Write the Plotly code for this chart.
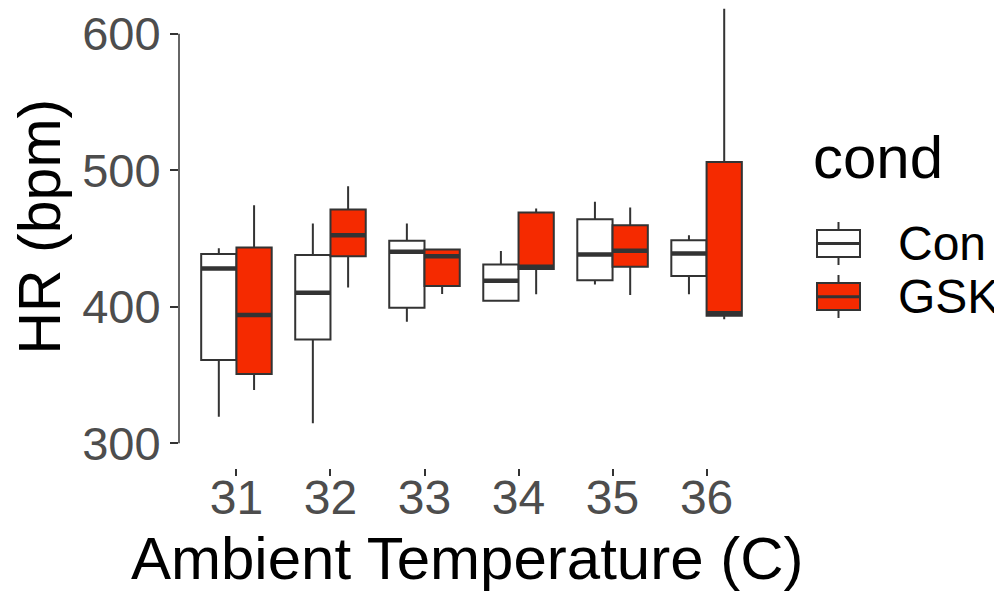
import plotly.graph_objects as go

# ---- data ----
temps = ["31", "32", "33", "34", "35", "36"]

con_lower  = [319.5, 314.6, 389.0, 404.4, 416.4, 409.1]
con_q1     = [361.0, 376.1, 399.3, 404.4, 419.5, 422.5]
con_median = [428.1, 410.2, 440.3, 419.0, 438.4, 439.1]
con_q3     = [438.6, 437.9, 448.3, 431.0, 464.2, 448.8]
con_upper  = [442.8, 461.0, 461.0, 440.8, 476.9, 452.5]

gsk_lower  = [339.0, 414.2, 409.3, 409.1, 408.6, 390.8]
gsk_q1     = [350.7, 437.1, 415.2, 427.6, 429.3, 393.4]
gsk_median = [393.9, 452.5, 437.1, 429.3, 441.0, 395.2]
gsk_q3     = [443.5, 471.3, 442.0, 469.1, 459.8, 506.1]
gsk_upper  = [474.4, 488.4, 442.0, 472.0, 472.8, 618.4]

y_ticks = [300, 400, 500, 600]
conds = ["Con", "GSK"]

# ---- style ----
RED = "#F52A00"
EDGE = "#333333"
FONT = "Liberation Sans, Arial, sans-serif"

OFF = 8  # page body margin
W, H = 1002 - OFF, 593 - OFF
L, R, T, B = 171, 239, 0, 125
PW, PH = W - L - R, H - T - B


def px_x(p):
    # page pixel -> paper x
    return (p - OFF - L) / PW


def px_y(p):
    # page pixel -> paper y
    return (H - B - (p - OFF)) / PH


fig = go.Figure()

series = [
    ("Con", "white", con_lower, con_q1, con_median, con_q3, con_upper),
    ("GSK", RED, gsk_lower, gsk_q1, gsk_median, gsk_q3, gsk_upper),
]

for name, fill, lo, q1, med, q3, up in series:
    fig.add_trace(go.Box(
        name=name, x=temps, q1=q1, median=med, q3=q3,
        lowerfence=lo, upperfence=up,
        fillcolor=fill, line=dict(color=EDGE, width=2),
        whiskerwidth=0, boxpoints=False,
        offsetgroup=name, alignmentgroup="a",
        showlegend=False, hoverinfo="skip",
    ))
    # thicker median line, like ggplot's fattened median
    fig.add_trace(go.Box(
        name=name + " median", x=temps, q1=med, median=med, q3=med,
        lowerfence=med, upperfence=med,
        fillcolor=fill, line=dict(color=EDGE, width=4.5),
        whiskerwidth=0, boxpoints=False,
        offsetgroup=name, alignmentgroup="a",
        showlegend=False, hoverinfo="skip",
    ))

fig.update_layout(
    width=W, height=H,
    margin=dict(l=L, r=R, t=T, b=B, pad=0),
    paper_bgcolor="white", plot_bgcolor="white",
    boxmode="group", boxgap=0.25, boxgroupgap=0,
    showlegend=False,
    font=dict(family=FONT),
)

fig.update_xaxes(
    type="category", range=[-0.611, 5.6],
    showline=False, showgrid=False, zeroline=False,
    ticks="outside", ticklen=7, tickwidth=1.5, tickcolor=EDGE,
    ticklabelstandoff=-20, ticklabeloverflow="allow",
    tickfont=dict(size=48, color="#4D4D4D", family=FONT),
)
fig.update_yaxes(
    range=[281.9, 618.9],
    tickvals=y_ticks, ticktext=[str(v) for v in y_ticks],
    showline=False, showgrid=False, zeroline=False,
    ticks="outside", ticklen=8, tickwidth=1.5, tickcolor=EDGE,
    ticklabeloverflow="allow",
    tickfont=dict(size=47, color="#4D4D4D", family=FONT),
)

shapes = [
    # capped y axis line (300..600)
    dict(type="line", xref="paper", yref="y", x0=0, x1=0,
         y0=y_ticks[0], y1=y_ticks[-1], line=dict(color=EDGE, width=1.5)),
]

# manual ggplot-style legend keys
keys = [("Con", "white", 230, 257, 243.5), ("GSK", RED, 283, 310, 296.7)]
kx0, kx1 = 817, 860
kxc = (kx0 + kx1) / 2
for name, fill, top, bot, mid in keys:
    shapes.append(dict(type="line", xref="paper", yref="paper",
                       x0=px_x(kxc), x1=px_x(kxc), y0=px_y(top - 8), y1=px_y(bot + 8),
                       line=dict(color=EDGE, width=2)))
    shapes.append(dict(type="rect", xref="paper", yref="paper",
                       x0=px_x(kx0), x1=px_x(kx1), y0=px_y(bot), y1=px_y(top),
                       fillcolor=fill, line=dict(color=EDGE, width=2)))
    shapes.append(dict(type="line", xref="paper", yref="paper",
                       x0=px_x(kx0), x1=px_x(kx1), y0=px_y(mid), y1=px_y(mid),
                       line=dict(color=EDGE, width=3)))

annotations = [
    dict(text="Ambient Temperature (C)", xref="paper", yref="paper",
         x=px_x(467), y=px_y(558), xanchor="center", yanchor="middle",
         showarrow=False, font=dict(size=60, color="black", family=FONT)),
    dict(text="HR (bpm)", xref="paper", yref="paper", textangle=-90,
         x=px_x(39), y=px_y(226.5), xanchor="center", yanchor="middle",
         showarrow=False, font=dict(size=59, color="black", family=FONT)),
    dict(text="cond", xref="paper", yref="paper",
         x=px_x(811), y=px_y(157), xanchor="left", yanchor="middle",
         showarrow=False, font=dict(size=60, color="black", family=FONT)),
    dict(text=conds[0], xref="paper", yref="paper",
         x=px_x(896), y=px_y(244), xanchor="left", yanchor="middle",
         showarrow=False, font=dict(size=48, color="black", family=FONT)),
    dict(text=conds[1], xref="paper", yref="paper",
         x=px_x(896), y=px_y(296), xanchor="left", yanchor="middle",
         showarrow=False, font=dict(size=48, color="black", family=FONT)),
]

fig.update_layout(shapes=shapes, annotations=annotations)

fig.write_html("out.html")
